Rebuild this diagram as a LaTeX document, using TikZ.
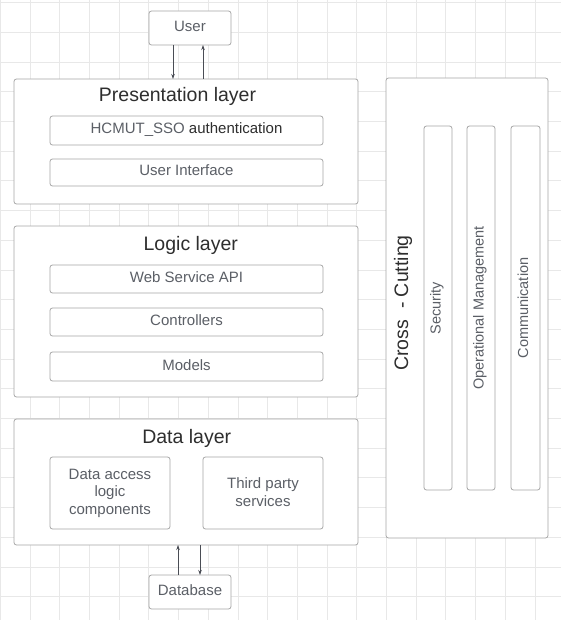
\documentclass[tikz,border=0pt]{standalone}
\usepackage{fontspec}
\setmainfont{Liberation Sans}
\usetikzlibrary{arrows.meta}
\definecolor{gridgray}{HTML}{E8E8E8}
\definecolor{boxgray}{HTML}{A6A6A6}
\definecolor{labelgray}{HTML}{5B5F66}
\definecolor{titlegray}{HTML}{2E2E2E}
\definecolor{arrowgray}{HTML}{4A4D55}
\tikzset{
  layer/.style={draw=boxgray, fill=white, rounded corners=2.5pt, line width=0.8pt, inner sep=0pt, outer sep=0pt},
  part/.style={layer, text=labelgray, font=\fontsize{15}{17.7}\selectfont, align=center, text height=0.85em, text depth=0.15em},
  multi/.style={part, text height=, text depth=0.25em},
  side/.style={part, rotate=90, font=\fontsize{14.5}{17}\selectfont, text height=0.75em, text depth=0.25em},
  title/.style={text=titlegray, font=\fontsize{19.5}{22}\selectfont, inner sep=0pt, anchor=base},
  link/.style={draw=arrowgray, line width=0.7pt, -{Stealth[length=5pt,width=3.5pt]}}
}
\begin{document}
\begin{tikzpicture}[x=1pt, y=-1pt]
  \useasboundingbox (0, 0) rectangle (561, 620);
  \foreach \i in {0, ..., 18} {
    \draw[gridgray, line width=0.8pt] ({0.3 + 29.7 * \i}, 0) -- ({0.3 + 29.7 * \i}, 620);
  }
  \foreach \j in {0, ..., 20} {
    \draw[gridgray, line width=0.8pt] (0, {2.6 + 29.7 * \j}) -- (561, {2.6 + 29.7 * \j});
  }
  \node[part, minimum width=82, minimum height=34] (user) at (190, 28) {User};
  \node[layer, minimum width=344, minimum height=125] (present) at (186, 141.5) {};
  \node[title] (presenttitle) at (177.5, 101.7) {Presentation layer};
  \node[part, minimum width=273, minimum height=29] (sso) at (186.5, 130.5) {HCMUT\_SSO {\color{titlegray}authentication}};
  \node[part, minimum width=273, minimum height=27] (ui) at (186.5, 172.5) {User Interface};
  \node[layer, minimum width=344, minimum height=171] (logic) at (186, 311.5) {};
  \node[title] (logictitle) at (190.8, 250.7) {Logic layer};
  \node[part, minimum width=273, minimum height=28] (api) at (186.5, 279) {Web Service API};
  \node[part, minimum width=273, minimum height=28] (ctrl) at (186.5, 322) {Controllers};
  \node[part, minimum width=273, minimum height=29] (models) at (186.5, 366.5) {Models};
  \node[layer, minimum width=344, minimum height=126] (data) at (186, 482) {};
  \node[title] (datatitle) at (186.7, 443.3) {Data layer};
  \node[multi, minimum width=120, minimum height=72] (dal) at (110, 493) {Data access\\logic\\components};
  \node[multi, minimum width=120, minimum height=72] (third) at (263, 493) {Third party\\services};
  \node[part, minimum width=82, minimum height=34] (db) at (190, 592) {Database};
  \node[layer, minimum width=162, minimum height=460] (cross) at (467, 308) {};
  \node[title, anchor=center, rotate=90] (crosstitle) at (403, 303) {Cross~~- Cutting};
  \node[side, minimum width=364, minimum height=28] (security) at (438, 308) {Security};
  \node[side, minimum width=364, minimum height=28] (ops) at (481, 308) {Operational Management};
  \node[side, minimum width=364, minimum height=29] (comm) at (525.5, 308) {Communication};
  \draw[link] ([xshift=-17pt]user.south) -- ([xshift=-17pt]user.south |- present.north);
  \draw[link] ([xshift=13pt]user.south |- present.north) -- ([xshift=13pt]user.south);
  \draw[link] ([xshift=-12pt]db.north) -- ([xshift=-12pt]db.north |- data.south);
  \draw[link] ([xshift=10pt]db.north |- data.south) -- ([xshift=10pt]db.north);
\end{tikzpicture}
\end{document}
